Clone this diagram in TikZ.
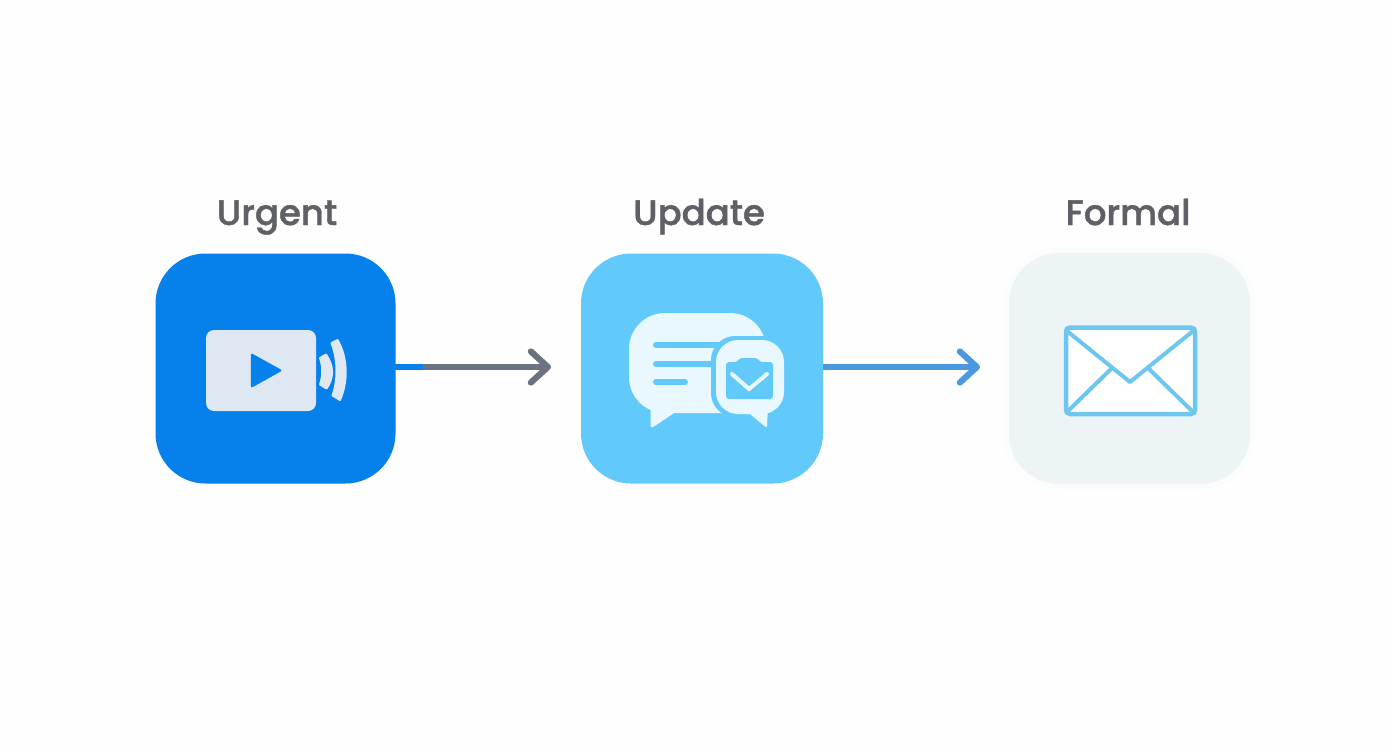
\documentclass[tikz,border=0pt]{standalone}
\usepackage{fontspec}
\setmainfont{Poppins}
\newfontfamily\capfont{Poppins Medium}[FakeBold=1.2]
\usetikzlibrary{arrows.meta}
\definecolor{pagebg}{HTML}{FEFEFE}
\definecolor{deepblue}{HTML}{0680EB}
\definecolor{skyblue}{HTML}{62CAFB}
\definecolor{palebox}{HTML}{ECF4F6}
\definecolor{paleicon}{HTML}{DDE8F3}
\definecolor{palechat}{HTML}{E9F7FE}
\definecolor{slategray}{HTML}{6B7280}
\definecolor{arrowblue}{HTML}{4A98E0}
\definecolor{envline}{HTML}{6CC6EF}
\definecolor{labelgray}{HTML}{5F6067}
\tikzset{
  x=1pt,y=-1pt,
  tile/.style={rounded corners=50pt,inner sep=0pt,minimum height=230pt,anchor=center},
  caption/.style={font=\fontsize{35.5}{40}\capfont,text=labelgray,anchor=base},
  conn/.style={line width=5.2pt,line cap=round},
  head/.style={-{Straight Barb[length=17pt,width=31pt,line width=6.2pt,round]}},
  chatbar/.style={line width=6pt,line cap=round,skyblue},
  wave/.style={fill=paleicon,draw=paleicon,line width=2pt,line join=round},
}
\begin{document}
\begin{tikzpicture}
\useasboundingbox (0,0) rectangle (1392,752);
\fill[pagebg] (0,0) rectangle (1392,752);
% tiles
\fill[palebox,opacity=.12,rounded corners=54pt] (1004,248) rectangle (1255,489);
\node[tile,fill=deepblue,minimum width=240pt] (urgent) at (275.5,368.5) {};
\node[tile,fill=skyblue,minimum width=242pt] (update) at (702,368.5) {};
\node[tile,fill=palebox,minimum width=241pt,minimum height=231pt] (formal) at (1129.5,368.5) {};
% captions
\node[caption] (lu) at (277,225) {Urgent};
\node[caption] (lp) at (699,225) {Update};
\node[caption] (lf) at (1128,225) {Formal};
% connectors
\coordinate (m1) at (423,367);
\coordinate (s1) at (395,367);
\coordinate (e1) at (551,367);
\coordinate (s2) at (823,367);
\coordinate (e2) at (980,367);
\draw[conn,slategray,head] (m1) -- (e1);
\draw[line width=5.2pt,deepblue] (s1) -- (m1);
\draw[conn,arrowblue,head,line cap=butt] (s2) -- (e2);
% video icon
\fill[paleicon,rounded corners=8pt] (206,330) rectangle (316,411);
\fill[deepblue,draw=deepblue,line width=2.5pt,line join=round] (252,355) -- (280,370.5) -- (252,386) -- cycle;
\draw[wave] (320,358) -- (326,354.5) .. controls (334,366) and (334,378) .. (326.5,388.5) -- (320,384.5) .. controls (323,376) and (323,367) .. (320,358) -- cycle;
\draw[wave] (331.5,343) -- (337.5,340) .. controls (348,358) and (348,382) .. (340,400) -- (332.5,395.5) .. controls (338,380) and (338,360) .. (331.5,343) -- cycle;
% chat icon
\fill[palechat,draw=palechat,line width=3pt,line join=round] (652,400) -- (652,426) -- (676,410) -- cycle;
\fill[palechat,rounded corners=36pt] (629,313) -- (766,313) -- (766,413) -- (629,413) -- cycle;
\draw[chatbar] (656,345) -- (722,345);
\draw[chatbar] (656,364) -- (716,364);
\draw[chatbar] (656,382) -- (685,382);
% small bubble
\fill[skyblue,rounded corners=24pt] (711,336) rectangle (786,417);
\fill[palechat,rounded corners=22pt] (716,340) rectangle (784,414);
\fill[palechat,draw=palechat,line width=2pt,line join=round] (749,412) -- (766,426) -- (767,408) -- cycle;
\fill[skyblue,rounded corners=3pt] (726,362) -- (738,362) -- (739,358) -- (758,358) -- (759,362) -- (773,362) -- (773,399) -- (726,399) -- cycle;
\draw[palechat,line width=4pt,line cap=round,line join=miter] (732,374) -- (749,389) -- (767,374);
% envelope
\draw[envline,fill=white,line width=4.5pt,rounded corners=4pt] (1066,327.5) rectangle (1195,414);
\draw[envline,line width=4pt,line join=round] (1067,331) -- (1130,382) -- (1193,331);
\draw[envline,line width=4pt] (1068,411) -- (1112,368);
\draw[envline,line width=4pt] (1192,411) -- (1148,368);
\end{tikzpicture}
\end{document}
